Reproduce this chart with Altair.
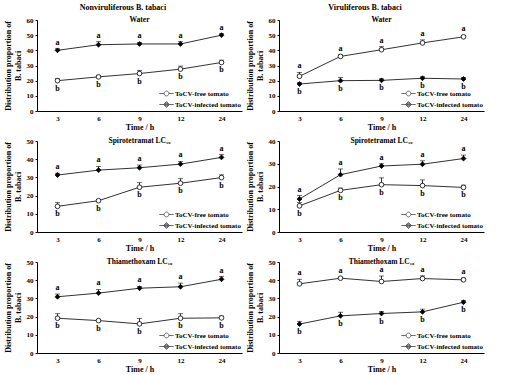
import altair as alt
import pandas as pd

times = ["3", "6", "9", "12", "24"]
series = ["ToCV-free tomato", "ToCV-infected tomato"]

# Nonviruliferous – Water
nw_free = [20, 22.5, 24.7, 27.6, 32]
nw_free_err = [1.5, 1, 2, 2, 1.5]
nw_inf = [40, 43.7, 44.2, 44.2, 50]
nw_inf_err = [1, 2, 1, 1.5, 1]
# Viruliferous – Water
vw_free = [22.9, 36, 40.4, 44.9, 48.9]
vw_free_err = [2.5, 1, 2, 2, 1]
vw_inf = [17.8, 20, 20.2, 21.6, 21.1]
vw_inf_err = [1, 2, 1, 1, 1]
# Nonviruliferous – Spirotetramat
ns_free = [14.1, 17.2, 24.6, 26.8, 29.9]
ns_free_err = [2, 0.5, 2.5, 2.5, 1.5]
ns_inf = [31.3, 34, 35.3, 37.3, 41]
ns_inf_err = [1, 2, 1.5, 1.5, 1.5]
# Viruliferous – Spirotetramat
vs_free = [11.5, 18.3, 20.8, 20.4, 19.6]
vs_free_err = [1.5, 1, 3, 2.5, 1]
vs_inf = [14.5, 25.2, 29, 29.8, 32.3]
vs_inf_err = [1.5, 2.5, 1, 1.5, 1.5]
# Nonviruliferous – Thiamethoxam
nt_free = [19.1, 17.8, 16, 19.1, 19.3]
nt_free_err = [2.5, 0.5, 3, 2.5, 1]
nt_inf = [30.9, 32.9, 35.6, 36.4, 40.5]
nt_inf_err = [1.5, 2, 1, 2, 1.5]
# Viruliferous – Thiamethoxam
vt_free = [38, 41.1, 39.3, 40.9, 40.2]
vt_free_err = [2.5, 0.5, 3, 1.5, 1]
vt_inf = [15.9, 20.4, 21.7, 22.6, 27.9]
vt_inf_err = [1.5, 2, 1, 1.5, 1]

FONT = "Liberation Serif"
W, H = 205, 91

# legend glyphs: short line with open circle / filled diamond (drawn at symbolSize 64 -> scale 4px)
LEG_PATHS = [
    "M-1.8,0H-0.6M0.6,0H1.8M-0.6,0A0.6,0.6,0,1,1,0.6,0A0.6,0.6,0,1,1,-0.6,0Z",
    "M-1.8,0H1.8M0,-0.75L0.75,0L0,0.75L-0.75,0ZM0,-0.5L0.5,0L0,0.5L-0.5,0ZM0,-0.25L0.25,0L0,0.25L-0.25,0Z",
]


def panel(title, ymax, free, free_err, inf, inf_err):
    rows = []
    for i, t in enumerate(times):
        up_free = free[i] > inf[i]
        rows.append(dict(time=t, series=series[0], value=free[i], err=free_err[i],
                         pos="up" if up_free else "down",
                         letter="a" if up_free else "b"))
        rows.append(dict(time=t, series=series[1], value=inf[i], err=inf_err[i],
                         pos="down" if up_free else "up",
                         letter="b" if up_free else "a"))
    df = pd.DataFrame(rows)
    base = alt.Chart(df).transform_calculate(top="datum.value + datum.err")
    x = alt.X("time:N", sort=times, title="Time / h",
              scale=alt.Scale(type="point", padding=0.5),
              axis=alt.Axis(labelAngle=0, ticks=False, labelPadding=3, titlePadding=2))

    def yenc(field):
        return alt.Y(field, type="quantitative", scale=alt.Scale(domain=[0, ymax]),
                     title=["Distribution proportion of", "B. tabaci"],
                     axis=alt.Axis(values=list(range(0, ymax + 1, 10)), tickSize=2,
                                   labelPadding=2, titlePadding=4, labelOverlap=False))

    rule = base.mark_rule(color="black", strokeWidth=0.8).encode(
        x=x, y=yenc("value"), y2="top:Q")
    cap = base.mark_tick(color="black", thickness=0.8, size=5).encode(
        x=x, y=yenc("top"))
    line = base.mark_line(color="#333333", strokeWidth=1).encode(
        x=x, y=yenc("value"), detail="series:N")
    p_free = base.transform_filter(alt.datum.series == series[0]).mark_point(
        shape="circle", filled=True, fill="white", stroke="black", strokeWidth=0.8,
        size=22, opacity=1).encode(x=x, y=yenc("value"))
    p_inf = base.transform_filter(alt.datum.series == series[1]).mark_point(
        shape="diamond", filled=True, fill="black", stroke="black", strokeWidth=0.8,
        size=24, opacity=1).encode(x=x, y=yenc("value"))
    txt_a = base.transform_filter("datum.pos == 'up'").mark_text(
        font=FONT, fontWeight="bold", fontSize=8, baseline="bottom", dy=-2,
        color="black", fill="black").encode(
        x=x, y=yenc("top"), text="letter:N")
    txt_b = base.transform_filter("datum.pos == 'down'").mark_text(
        font=FONT, fontWeight="bold", fontSize=8, baseline="top", dy=4,
        color="black", fill="black").encode(
        x=x, y=yenc("value"), text="letter:N")
    leg = base.transform_filter("false").mark_point(
        filled=False, stroke="black", strokeWidth=0.8).encode(
        x=x, y=yenc("value"),
        shape=alt.Shape("series:N", scale=alt.Scale(domain=series, range=LEG_PATHS),
                        legend=alt.Legend(title=None, orient="bottom-right", offset=1,
                                          symbolSize=64, rowPadding=1, padding=0,
                                          symbolStrokeColor="black", symbolFillColor="white",
                                          symbolStrokeWidth=0.8,
                                          labelFont=FONT, labelFontSize=7, labelFontWeight="bold",
                                          labelColor="black", labelOffset=4)))
    return alt.layer(line, rule, cap, p_free, p_inf, txt_a, txt_b, leg).properties(
        width=W, height=H,
        title=alt.TitleParams(title, font=FONT, fontSize=7.5, fontWeight="bold",
                              anchor="middle", offset=-7))


left = alt.vconcat(
    panel("Water", 60, nw_free, nw_free_err, nw_inf, nw_inf_err),
    panel("Spirotetramat LC₁₀", 50, ns_free, ns_free_err, ns_inf, ns_inf_err),
    panel("Thiamethoxam LC₁₀", 50, nt_free, nt_free_err, nt_inf, nt_inf_err),
    spacing=5,
    title=alt.TitleParams("Nonviruliferous  B. tabaci", font=FONT, fontSize=8,
                          fontWeight="bold", anchor="middle", offset=4),
).resolve_scale(shape="independent").resolve_legend(shape="independent")
right = alt.vconcat(
    panel("Water", 60, vw_free, vw_free_err, vw_inf, vw_inf_err),
    panel("Spirotetramat LC₁₀", 40, vs_free, vs_free_err, vs_inf, vs_inf_err),
    panel("Thiamethoxam LC₁₀", 50, vt_free, vt_free_err, vt_inf, vt_inf_err),
    spacing=5,
    title=alt.TitleParams("Viruliferous  B. tabaci", font=FONT, fontSize=8,
                          fontWeight="bold", anchor="middle", offset=4),
).resolve_scale(shape="independent").resolve_legend(shape="independent")

chart = alt.hconcat(left, right, spacing=4).resolve_scale(
    shape="independent").resolve_legend(shape="independent").properties(
    padding={"left": 4, "top": 3, "right": 4, "bottom": 2}
).configure_view(stroke=None).configure_axis(
    grid=False, domainColor="black", tickColor="black", domainWidth=1,
    labelFont=FONT, labelFontSize=7, labelFontWeight="bold", labelColor="black",
    titleFont=FONT, titleFontSize=8, titleFontWeight="bold", titleColor="black",
).configure_concat(spacing=4)

chart.save("out.html", embed_options={"renderer": "svg", "actions": False})
